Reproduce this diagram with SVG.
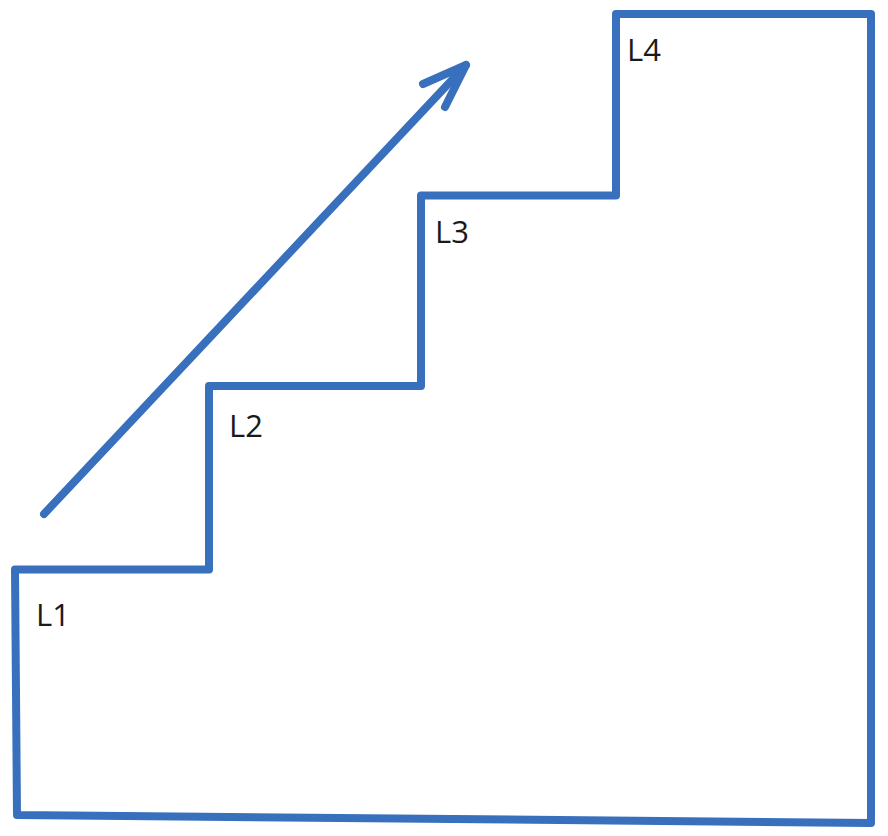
<svg xmlns="http://www.w3.org/2000/svg" width="888" height="836" viewBox="0 0 888 836">
<style>
.ln{fill:none;stroke:#3870BE;stroke-width:8;stroke-linejoin:round;stroke-linecap:round}
.lb{font-family:"Open Sans","Liberation Sans",sans-serif;font-size:31px;fill:#1a1a1a}
</style>
<rect width="888" height="836" fill="#ffffff"/>
<g id="stairs">
<path class="ln" d="M17,815 L15,569.5 L209,569.5 L209,386 L421,386 L421,195.5 L616,195.5 L616,14 L871,14 L871,823 Z"/>
</g>
<g id="connectors">
<path class="ln" d="M44,514 L466,65"/>
<path class="ln" d="M423,84 L466,65 L445,107"/>
</g>
<g id="L1"><text class="lb" x="36" y="626">L1</text></g>
<g id="L2"><text class="lb" x="229" y="437">L2</text></g>
<g id="L3"><text class="lb" x="435" y="243">L3</text></g>
<g id="L4"><text class="lb" x="627" y="61">L4</text></g>
</svg>
